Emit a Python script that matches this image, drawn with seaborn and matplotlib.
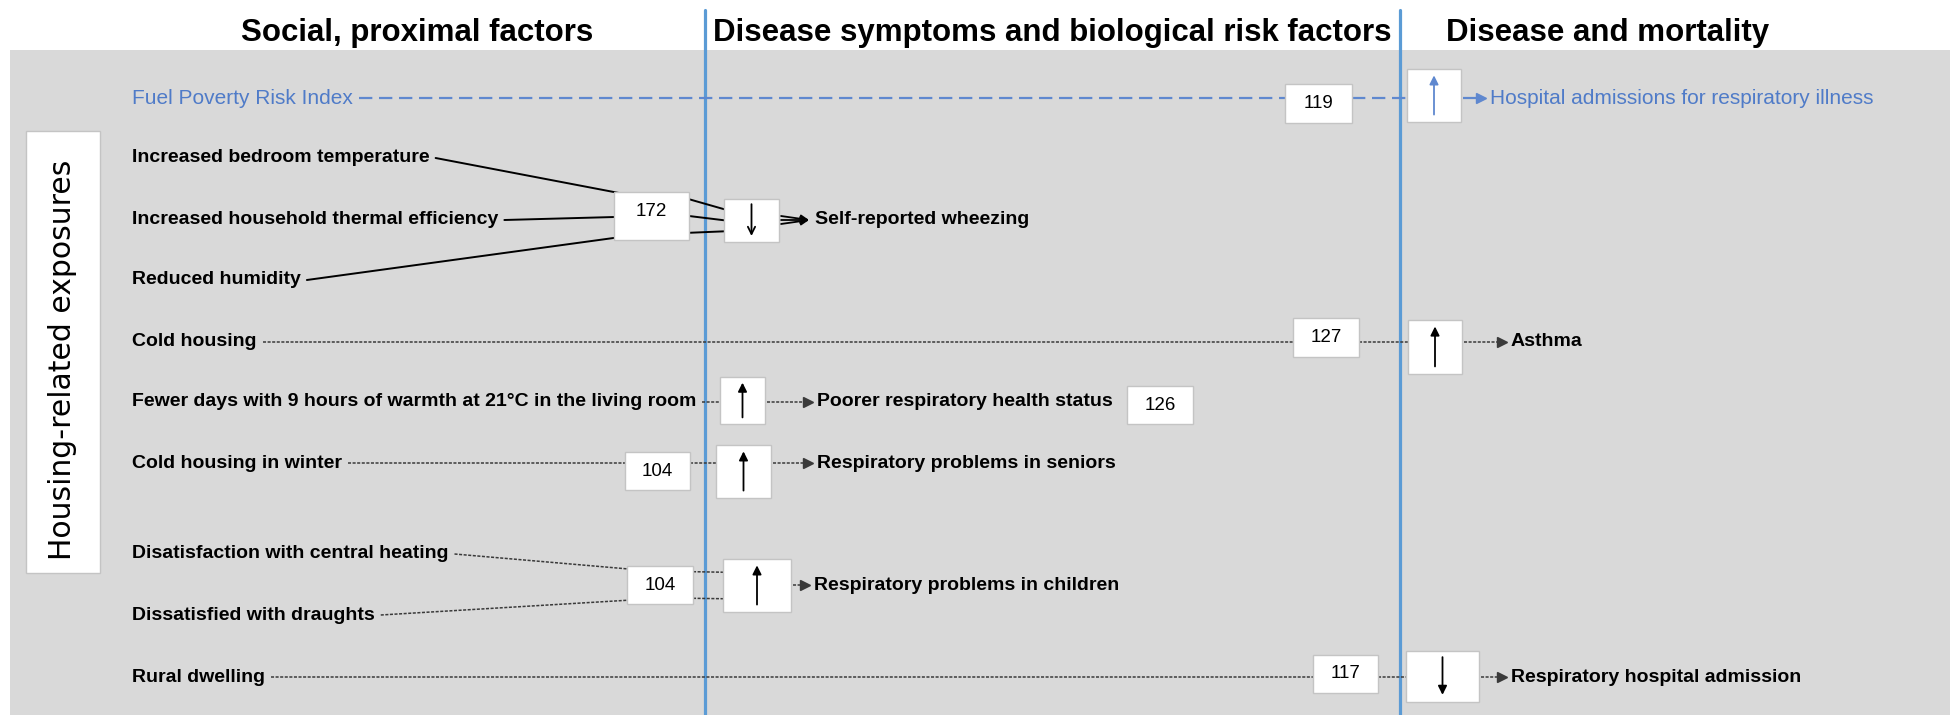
import numpy as np
import matplotlib
matplotlib.use("Agg")
import matplotlib.pyplot as plt
from matplotlib import font_manager
from matplotlib.font_manager import FontProperties
from matplotlib.patches import Rectangle
import seaborn as sns

# ---- content of the diagram ----
stages = ["Social, proximal factors",
          "Disease symptoms and biological risk factors",
          "Disease and mortality"]
side_label = "Housing-related exposures"
exposures = ["Fuel Poverty Risk Index",
             "Increased bedroom temperature",
             "Increased household thermal efficiency",
             "Reduced humidity",
             "Cold housing",
             "Fewer days with 9 hours of warmth at 21°C in the living room",
             "Cold housing in winter",
             "Disatisfaction with central heating",
             "Dissatisfied with draughts",
             "Rural dwelling"]
outcomes = ["Hospital admissions for respiratory illness",
            "Self-reported wheezing",
            "Asthma",
            "Poorer respiratory health status",
            "Respiratory problems in seniors",
            "Respiratory problems in children",
            "Respiratory hospital admission"]
study_ids = [119, 172, 127, 126, 104, 104, 117]
effects = ["up", "down", "up", "up", "up", "up", "down"]
exposure_outcome = [0, 1, 1, 1, 2, 3, 4, 5, 5, 6]

# ---- layout (pixel coords of the 1950x715 canvas) ----
W, H = 1950, 715
stage_x = [417, 1052, 1608]
divider_x = [705, 1400]
exp_y = [98, 158, 220, 280, 342, 402, 463, 554, 615, 677]
out_y = [98, 220, 342, 402, 463, 585, 677]
id_box = [(1285, 84, 67, 39), (614, 192, 75, 48), (1293, 318, 66, 39),
          (1127, 386, 66, 38), (625, 452, 65, 38), (627, 566, 66, 38),
          (1313, 655, 65, 38)]
arrow_box = [(1407, 69, 54, 53), (724, 199, 55, 43), (1408, 320, 54, 54),
             (720, 377, 45, 47), (716, 445, 55, 53), (723, 559, 68, 53),
             (1406, 651, 73, 51)]
label_x = [1488, 813, 1509, 815, 815, 812, 1509]
text_x = 132

blue_text = "#4f7bc8"
blue_line = "#5f88cf"
divider_col = "#5b9bd5"
grey_bg = "#d9d9d9"
box_edge = "#c4c4c4"


def pick_font(cands):
    for f in cands:
        try:
            font_manager.findfont(FontProperties(family=f), fallback_to_default=False)
            return f
        except ValueError:
            pass
    return "DejaVu Sans"


sns.set_theme(style="white")
main_font = pick_font(["Liberation Sans", "Arimo", "DejaVu Sans"])
plt.rcParams["font.family"] = [main_font, "DejaVu Sans"]

fig = plt.figure(figsize=(W / 100, H / 100), dpi=100)
ax = fig.add_axes([0, 0, 1, 1])
ax.set_xlim(0, W)
ax.set_ylim(H, 0)
ax.axis("off")

# background panel
ax.add_patch(Rectangle((10, 50), W - 10, H - 50, facecolor=grey_bg, edgecolor="none", zorder=0))

# stage headers and dividers
for name, x in zip(stages, stage_x):
    ax.text(x, 33, name, ha="center", va="center", fontsize=22.5, fontweight="bold", color="black")
for x in divider_x:
    ax.plot([x, x], [10, H], color=divider_col, lw=2.3, zorder=1)

# side box
ax.add_patch(Rectangle((26, 131), 74, 442, facecolor="white", edgecolor=box_edge, lw=1, zorder=2))
ax.text(63, 360, side_label, rotation=90, ha="center", va="center", fontsize=21.5,
        family="DejaVu Sans", color="black", zorder=3)

# exposure labels
exp_text = []
for i, name in enumerate(exposures):
    j = exposure_outcome[i]
    col = blue_text if j == 0 else "black"
    wt = "normal" if j == 0 else "bold"
    fs = 15 if j == 0 else 14
    exp_text.append(ax.text(text_x, exp_y[i], name, ha="left", va="center", fontsize=fs,
                            fontweight=wt, color=col, zorder=4))

fig.canvas.draw()
renderer = fig.canvas.get_renderer()
inv = ax.transData.inverted()
exp_end = [inv.transform(t.get_window_extent(renderer).get_points())[:, 0].max() for t in exp_text]


def line_style(j):
    if j == 0:
        return dict(color=blue_line, lw=1.6, ls=(0, (6, 3)))
    if j == 1:
        return dict(color="black", lw=1.4, ls="-")
    return dict(color="#3a3a3a", lw=1.1, ls=(0, (2, 1)))


for j, name in enumerate(outcomes):
    st = line_style(j)
    src = [i for i, o in enumerate(exposure_outcome) if o == j]
    n = len(src)
    ix, iy, iw, ih = id_box[j]
    ax_, ay, aw, ah = arrow_box[j]
    icy, acy = iy + ih / 2, ay + ah / 2
    offs = np.linspace(-1, 1, n) if n > 1 else np.zeros(1)
    before = ix < ax_

    # exposure -> study box (or straight to arrow box)
    for k, i in enumerate(src):
        x0 = exp_end[i] + 6
        if before:
            tx, ty = ix + iw / 2, (exp_y[i] if n == 1 else icy + offs[k] * ih * 0.35)
        else:
            tx, ty = ax_, exp_y[i]
        ax.plot([x0, tx], [exp_y[i], ty], zorder=2, **st)
        if before:
            y_a = exp_y[i] if n == 1 else icy + offs[k] * ih * 0.35
            y_b = exp_y[i] if n == 1 else acy + offs[k] * ah * 0.25
            ax.plot([ix + iw, ax_ + 2], [y_a, y_b], zorder=2, **st)

    # study reference box
    ax.add_patch(Rectangle((ix, iy), iw, ih, facecolor="white", edgecolor=box_edge, lw=1, zorder=5))
    ax.text(ix + iw / 2, icy + (-4 if n == 3 else 0), str(study_ids[j]), ha="center", va="center",
            fontsize=13.5, color="black", zorder=6)

    # direction box
    ax.add_patch(Rectangle((ax_, ay), aw, ah, facecolor="white", edgecolor=box_edge, lw=1, zorder=5))
    top, bot = ay + ah * 0.12, ay + ah * 0.86
    a_col = blue_line if j == 0 else "black"
    a_sty = "->" if j == 1 else "-|>"
    start, end = (bot, top) if effects[j] == "up" else (top, bot)
    ax.annotate("", xy=(ax_ + aw / 2, end), xytext=(ax_ + aw / 2, start),
                arrowprops=dict(arrowstyle=a_sty, color=a_col, lw=1.3, mutation_scale=13,
                                shrinkA=0, shrinkB=0), zorder=6)

    # direction box -> outcome
    oy = out_y[j]
    x_end = label_x[j] - 4
    if j == 1:
        for k in range(n):
            ax.annotate("", xy=(x_end, oy), xytext=(ax_ + aw + 2, oy + offs[k] * 4),
                        arrowprops=dict(arrowstyle="->", color="black", lw=1.3, mutation_scale=12,
                                        shrinkA=0, shrinkB=0), zorder=4)
    else:
        ax.plot([ax_ + aw + 2, x_end - 4], [oy, oy], zorder=4, **st)
        ax.plot(x_end - 3, oy, marker=">", ms=7, color=st["color"], mec=st["color"], zorder=4)

    col = blue_text if j == 0 else "black"
    wt = "normal" if j == 0 else "bold"
    fs = 15 if j == 0 else 14
    ax.text(label_x[j] + 2, oy, name, ha="left", va="center", fontsize=fs, fontweight=wt,
            color=col, zorder=4)

fig.savefig("out.png", dpi=100)
